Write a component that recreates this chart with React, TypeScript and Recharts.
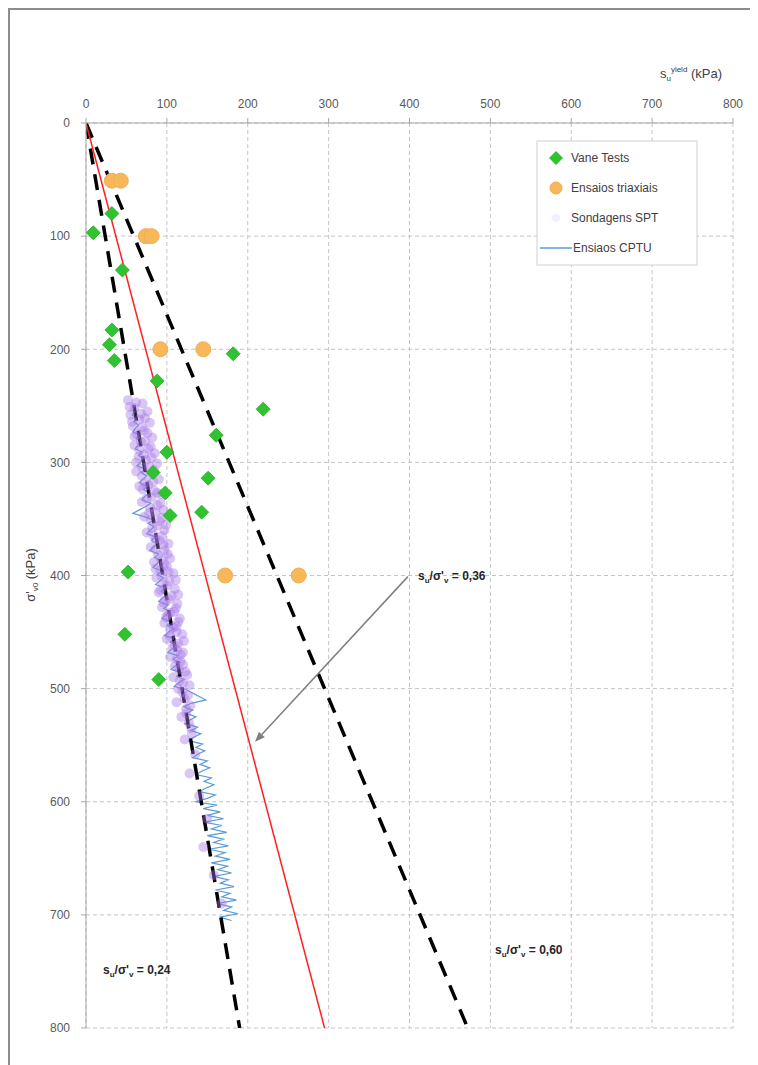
import React from 'react';
import {
  ComposedChart, XAxis, YAxis, CartesianGrid, Scatter, Line, ReferenceLine, Customized,
} from 'recharts';

// ---- axis ticks ----
const xTicks = [0, 100, 200, 300, 400, 500, 600, 700, 800];
const yTicks = [0, 100, 200, 300, 400, 500, 600, 700, 800];

// ---- Vane Tests [su, sigma'v0] ----
const vaneSu = [9, 32, 45, 32, 29, 35, 182, 88, 219, 161, 100, 83, 151, 98, 143, 104, 52, 48, 90];
const vaneSig = [97, 80, 130, 183, 196, 210, 204, 228, 253, 276, 291, 309, 314, 327, 344, 347, 397, 452, 492];

// ---- Ensaios triaxiais ----
const triSu = [32, 43, 74, 81, 92, 145, 172, 263];
const triSig = [51, 51, 100, 100, 200, 200, 400, 400];

// ---- Sondagens SPT ----
const sptSig = [245, 248, 252, 255, 258, 262, 265, 268, 272, 275, 278, 282, 285, 288, 292, 295, 298, 301, 305, 308,
  311, 315, 318, 321, 325, 328, 332, 335, 338, 342, 345, 348, 352, 355, 358, 362, 365, 368, 372, 375, 378, 382, 385,
  388, 392, 395, 398, 402, 405, 408, 412, 415, 418, 422, 425, 428, 432, 435, 438, 442, 445, 448, 452, 456, 460, 464,
  468, 472, 476, 480, 485, 490, 495, 500, 506, 512, 518, 525, 535, 545, 558, 575, 595, 615, 640, 665, 690,
  247, 251, 257, 261, 264, 269, 274, 277, 281, 286, 289, 293, 296, 300, 304, 307, 312, 317, 320, 324, 327, 331,
  336, 340, 344, 349, 351, 356, 360, 364, 369, 373, 377, 381, 386, 390, 394, 397, 401, 404, 409, 413, 417, 421,
  424, 429, 433, 437, 441, 446, 450, 454, 458, 462, 466, 470, 474, 479, 483, 488, 493, 497, 503, 509, 515, 522,
  530, 540];
const sptSu = [52, 70, 60, 76, 55, 66, 79, 58, 72, 63, 82, 68, 60, 77, 85, 65, 74, 88, 70, 62,
  80, 90, 73, 66, 84, 93, 75, 69, 88, 96, 78, 72, 91, 99, 82, 75, 94, 86, 102, 80, 97, 89, 104,
  84, 100, 92, 108, 87, 103, 95, 110, 90, 106, 98, 113, 94, 109, 101, 116, 97, 112, 104, 119, 100, 114, 107,
  120, 104, 117, 110, 123, 108, 120, 114, 126, 112, 124, 118, 130, 122, 135, 128, 140, 150, 145, 158, 168,
  62, 54, 68, 73, 57, 69, 76, 60, 73, 80, 66, 72, 81, 62, 78, 84, 69, 83, 77, 70, 88, 81,
  92, 79, 86, 94, 80, 88, 97, 83, 91, 96, 86, 101, 93, 97, 86, 102, 94, 111, 100, 92, 114, 103,
  96, 111, 104, 99, 114, 108, 112, 104, 121, 110, 113, 117, 112, 120, 115, 125, 116, 128, 119, 122, 129, 124,
  127, 131];

// ---- Ensaios CPTU ----
const cptuSig = [255, 258, 261, 264, 267, 270, 273, 276, 279, 282, 285, 288, 291, 294, 297, 300, 303, 306, 309, 312,
  315, 318, 321, 324, 327, 330, 333, 336, 339, 342, 345, 348, 351, 354, 357, 360, 363, 366, 369, 372, 375, 378,
  381, 384, 387, 390, 393, 396, 399, 402, 405, 408, 411, 414, 417, 420, 423, 426, 429, 432, 435, 438, 441, 444,
  447, 450, 453, 456, 459, 462, 465, 468, 471, 474, 477, 480, 483, 486, 489, 492, 495, 498, 501, 504, 507, 510,
  513, 516, 519, 522, 525, 528, 531, 534, 537, 540, 543, 546, 549, 552, 555, 558, 561, 564, 567, 570, 573, 576,
  579, 582, 585, 588, 591, 594, 597, 600, 603, 606, 609, 612, 615, 618, 621, 624, 627, 630, 633, 636, 639, 642,
  645, 648, 651, 654, 657, 660, 663, 666, 669, 672, 675, 678, 681, 684, 687, 690, 693, 696, 699, 702, 705];
const cptuSu = [60, 57, 63, 59, 65, 61, 58, 66, 62, 68, 64, 61, 69, 65, 72, 67, 63, 73, 68, 75,
  70, 66, 76, 71, 78, 73, 69, 80, 74, 66, 58, 72, 83, 77, 84, 79, 75, 86, 81, 88, 83, 79,
  90, 85, 92, 87, 83, 94, 88, 96, 91, 86, 98, 93, 100, 94, 90, 102, 96, 104, 98, 94, 106, 100,
  108, 102, 97, 110, 104, 112, 106, 101, 114, 108, 116, 110, 105, 118, 112, 121, 114, 109, 124, 132, 140, 148,
  130, 121, 132, 125, 136, 128, 122, 138, 130, 142, 133, 127, 144, 136, 147, 138, 132, 150, 141, 153, 143, 136,
  155, 146, 158, 148, 140, 160, 150, 135, 162, 145, 166, 150, 170, 146, 168, 155, 174, 150, 170, 158, 176, 152,
  172, 160, 178, 155, 175, 163, 180, 158, 176, 166, 183, 160, 178, 168, 186, 162, 180, 170, 188, 165, 180];

// ---- reference lines (start / end) ----
const ratio024 = [{ x: 0, y: 0 }, { x: 190, y: 800 }];
const ratio036 = [{ x: 0, y: 0 }, { x: 295, y: 800 }];
const ratio060 = [{ x: 0, y: 0 }, { x: 472, y: 800 }];
const arrowSeg = [{ x: 398, y: 401 }, { x: 209, y: 547 }];

const vaneData = vaneSu.map((x, i) => ({ x, y: vaneSig[i] }));
const triData = triSu.map((x, i) => ({ x, y: triSig[i] }));
const sptData = sptSu.map((x, i) => ({ x, y: sptSig[i] }));
const cptuData = cptuSu.map((x, i) => ({ x, y: cptuSig[i] }));

const FONT = '"Liberation Sans", "Open Sans", Arial, sans-serif';
const GREEN = '#2fc42f';
const ORANGE = '#f7b85a';

const Diamond = (p: any) => {
  const { cx, cy } = p;
  const r = 7;
  return <polygon points={`${cx},${cy - r} ${cx + r},${cy} ${cx},${cy + r} ${cx - r},${cy}`} fill={GREEN} stroke="#27a927" strokeWidth={0.8} />;
};
const Circle = (p: any) => <circle cx={p.cx} cy={p.cy} r={7.5} fill={ORANGE} stroke="#f0ad55" strokeWidth={1} />;
const SptDot = (p: any) => <circle cx={p.cx} cy={p.cy} r={5} fill="#a678e8" fillOpacity={0.42} />;

const ArrowShape = (p: any) => {
  const { x1, y1, x2, y2 } = p;
  if (x1 == null) return <g />;
  const a = Math.atan2(y2 - y1, x2 - x1);
  const L = 10, W = 4;
  const bx = x2 - L * Math.cos(a), by = y2 - L * Math.sin(a);
  const px = -Math.sin(a) * W, py = Math.cos(a) * W;
  return (
    <g>
      <line x1={x1} y1={y1} x2={bx} y2={by} stroke="#7f7f7f" strokeWidth={1.5} />
      <polygon points={`${x2},${y2} ${bx + px},${by + py} ${bx - px},${by - py}`} fill="#7f7f7f" />
    </g>
  );
};

const RatioText = ({ x, y, val }: { x: number; y: number; val: string }) => (
  <text x={x} y={y} fontFamily={FONT} fontSize={12} fontWeight="bold" fill="#262626">
    s<tspan fontSize={8} dy={3}>u</tspan>
    <tspan dy={-3}>/σ'</tspan>
    <tspan fontSize={8} dy={3}>v</tspan>
    <tspan dy={-3}> = {val}</tspan>
  </text>
);

const Overlay = () => (
  <g>
    <RatioText x={408} y={570} val="0,36" />
    <RatioText x={93} y={964} val="0,24" />
    <RatioText x={485} y={944} val="0,60" />
    {/* x-axis title */}
    <text x={712} y={68} textAnchor="end" fontFamily={FONT} fontSize={13} fill="#404040">
      s<tspan fontSize={8} dy={3}>u</tspan>
      <tspan fontSize={8} dy={-9}>yield</tspan>
      <tspan dy={6}> (kPa)</tspan>
    </text>
    {/* y-axis title */}
    <text transform="translate(25,565) rotate(-90)" textAnchor="middle" fontFamily={FONT} fontSize={13} fill="#404040">
      σ'<tspan fontSize={8} dy={3}>v0</tspan>
      <tspan dy={-3}> (kPa)</tspan>
    </text>
    {/* legend */}
    <rect x={527} y={131} width={160} height={124} fill="#ffffff" stroke="#d0d0d0" strokeWidth={1} />
    <polygon points="546,141 553,148 546,155 539,148" fill={GREEN} />
    <text x={561} y={152} fontFamily={FONT} fontSize={12} fill="#404040">Vane Tests</text>
    <circle cx={546} cy={178} r={6} fill={ORANGE} stroke="#eda54a" />
    <text x={561} y={182} fontFamily={FONT} fontSize={12} fill="#404040">Ensaios triaxiais</text>
    <circle cx={546} cy={208} r={4} fill="#e9dcf7" fillOpacity={0.5} />
    <text x={561} y={212} fontFamily={FONT} fontSize={12} fill="#404040">Sondagens SPT</text>
    <line x1={530} y1={238} x2={562} y2={238} stroke="#5b9bd5" strokeWidth={1.5} />
    <text x={563} y={242} fontFamily={FONT} fontSize={12} fill="#404040">Ensiaos CPTU</text>
  </g>
);

export default function App() {
  return (
    <div style={{ width: 760, height: 1070, borderTop: '2px solid #8c8c8c', borderLeft: '2px solid #8c8c8c', background: '#fff' }}>
      <ComposedChart width={748} height={1050} margin={{ top: 83, right: 25, bottom: 32, left: 16 }}>
        <CartesianGrid stroke="#c4c4c4" strokeDasharray="4 3" />
        <XAxis
          type="number" dataKey="x" orientation="top" domain={[0, 800]} ticks={xTicks} height={30}
          tickSize={5} tickMargin={10} allowDataOverflow
          stroke="#a6a6a6" tick={{ fill: '#595959', fontSize: 12, fontFamily: FONT }}
        />
        <YAxis
          type="number" dataKey="y" reversed domain={[0, 800]} ticks={yTicks} width={60}
          tickSize={5} tickMargin={11} allowDataOverflow
          stroke="#a6a6a6" tick={{ fill: '#595959', fontSize: 12, fontFamily: FONT }}
        />
        <Scatter data={sptData} shape={SptDot} isAnimationActive={false} />
        <Line data={cptuData} dataKey="y" type="linear" stroke="#5b9bd5" strokeWidth={1.2} dot={false} isAnimationActive={false} />
        <Line data={ratio024} dataKey="y" type="linear" stroke="#000" strokeWidth={3.5} strokeDasharray="16 10" dot={false} isAnimationActive={false} />
        <Line data={ratio060} dataKey="y" type="linear" stroke="#000" strokeWidth={3.5} strokeDasharray="16 10" dot={false} isAnimationActive={false} />
        <Line data={ratio036} dataKey="y" type="linear" stroke="#ff1f1f" strokeWidth={1.5} dot={false} isAnimationActive={false} />
        <Scatter data={vaneData} shape={Diamond} isAnimationActive={false} />
        <Scatter data={triData} shape={Circle} isAnimationActive={false} />
        <ReferenceLine segment={arrowSeg} shape={ArrowShape} ifOverflow="visible" />
        <Customized component={Overlay} />
      </ComposedChart>
    </div>
  );
}
